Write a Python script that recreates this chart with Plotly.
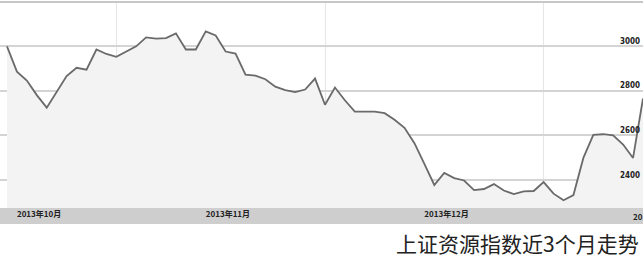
import plotly.graph_objects as go

# trading-day index and index level
values = [2998, 2885, 2845, 2780, 2724, 2796, 2865, 2902, 2894, 2984,
          2964, 2951, 2973, 2998, 3038, 3033, 3035, 3056, 2984, 2984,
          3065, 3047, 2975, 2966, 2872, 2867, 2851, 2818, 2802, 2793,
          2805, 2854, 2737, 2814, 2757, 2706, 2706, 2706, 2699, 2670,
          2634, 2565, 2472, 2378, 2432, 2409, 2398, 2355, 2360, 2382,
          2353, 2337, 2349, 2351, 2391, 2339, 2310, 2333, 2499, 2602,
          2605, 2600, 2559, 2499, 2765]
days = list(range(len(values)))

month_labels = ["2013年10月", "2013年11月", "2013年12月", "2014年1月"]
month_idx = [1, 20, 42, 63]
week_grid_idx = [11, 32, 54]
y_ticks = [2400, 2600, 2800, 3000]

tick_font = dict(family="Noto Sans CJK SC", size=8, color="#222222", weight="bold")

fig = go.Figure()
fig.add_trace(go.Scatter(
    x=days, y=values, mode="lines",
    line=dict(color="#6a6a6a", width=1.8),
    fill="tozeroy", fillcolor="#f3f3f3",
    hoverinfo="skip", showlegend=False,
))

# grey band under the plot area for the month labels
fig.add_shape(type="rect", xref="paper", yref="paper",
              x0=0, x1=1, y0=-16/205, y1=0,
              fillcolor="#cecece", line=dict(width=0), layer="below")
# top border
fig.add_shape(type="line", xref="paper", yref="paper",
              x0=0, x1=1, y0=1.005, y1=1.005,
              line=dict(color="#b4b4b4", width=1.5))

annotations = [dict(
    text="上证资源指数近3个月走势", xref="paper", yref="paper",
    x=1, y=-35/205, xanchor="right", yanchor="middle", showarrow=False,
    font=dict(family="Noto Sans CJK SC", size=21, color="#222222"),
    xshift=-2,
)]
# last month label runs off the right edge (truncated like the original)
annotations.append(dict(
    text=month_labels[-1], xref="x", yref="paper",
    x=month_idx[-1], y=-8/205, xanchor="left", yanchor="middle",
    showarrow=False, font=tick_font, xshift=-2,
))

fig.update_layout(
    width=643, height=259,
    margin=dict(l=0, r=0, t=3, b=51, autoexpand=False),
    paper_bgcolor="white", plot_bgcolor="white",
    xaxis=dict(
        range=[-0.704, 64], showgrid=False, zeroline=False, showline=False,
        automargin=False,
        tickvals=month_idx[:-1], ticktext=month_labels[:-1],
        ticks="", ticklabelposition="outside right",
        tickfont=tick_font,
        minor=dict(tickvals=week_grid_idx, showgrid=True, gridcolor="#e6e6e6", gridwidth=1),
    ),
    yaxis=dict(
        range=[2275, 3192], side="right", tickvals=y_ticks,
        automargin=False,
        ticklabelposition="inside", ticks="",
        ticklabelshift=-5,
        tickfont=dict(family="DejaVu Sans Condensed", size=8, color="#222222", weight="bold"),
        showgrid=True, gridcolor="#d4d4d4", gridwidth=1.5,
        zeroline=False, showline=False,
    ),
    annotations=annotations,
)

fig.write_html("out.html", config={"displayModeBar": False},
               post_script="document.body.style.margin='0';")
